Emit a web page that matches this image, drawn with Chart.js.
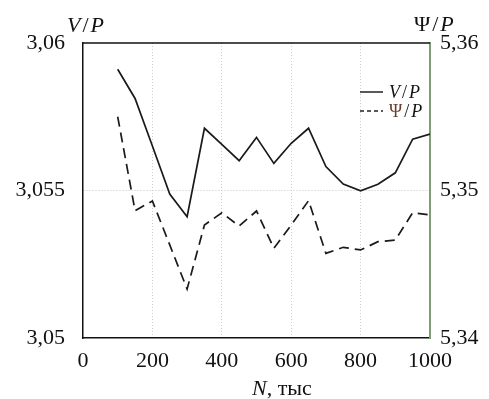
<!DOCTYPE html>
<html>
<head>
<meta charset="utf-8">
<script src="https://cdn.jsdelivr.net/npm/chart.js@4/dist/chart.umd.min.js"></script>
<style>
  html, body { margin: 0; padding: 0; background: #fff; }
  #wrap { width: 489px; height: 399px; }
</style>
</head>
<body>
<div id="wrap"><canvas id="chart" width="489" height="399"></canvas></div>
<script>
// N, thousands
const nValues = [100, 150, 200, 250, 300, 350, 400, 450, 500, 550, 600, 650, 700, 750, 800, 850, 900, 950, 1000];
// V/P (left axis)
const vOverP = [3.05911, 3.05812, 3.05651, 3.05488, 3.05411, 3.05711, 3.05656, 3.05601, 3.05680, 3.05592,
  3.05660, 3.05711, 3.05581, 3.05522, 3.05499, 3.05521, 3.05560, 3.05674, 3.05691];
// Psi/P (right axis)
const psiOverP = [5.35500, 5.34863, 5.34929, 5.34631, 5.34332, 5.34766, 5.34849, 5.34759, 5.34861, 5.34608,
  5.34766, 5.34931, 5.34574, 5.34615, 5.34597, 5.34653, 5.34664, 5.34849, 5.34834];

const xTicks = [0, 200, 400, 600, 800, 1000];
const leftTicks = [3.05, 3.055, 3.06];
const rightTicks = [5.34, 5.35, 5.36];

const SERIF = "'Liberation Serif', 'DejaVu Serif', serif";

function toPoints(xs, ys) {
  return xs.map((x, i) => ({ x, y: ys[i] }));
}

function commaNum(value) {
  return String(value).replace('.', ',');
}

// runs of text with their own style; gap adds space after a run
function drawRuns(ctx, runs, x, y, size) {
  let cx = x;
  runs.forEach((r) => {
    ctx.font = `${r.italic ? 'italic ' : ''}${size}px ${SERIF}`;
    ctx.fillStyle = r.color || '#111';
    cx += r.pre || 0;
    ctx.fillText(r.text, cx, y);
    cx += ctx.measureText(r.text).width + (r.gap || 0);
  });
}

function ratio(top, color) {
  return [
    { text: top.text, italic: top.italic, color },
    { text: '/', italic: false, pre: 2, gap: 2 },
    { text: 'P', italic: true },
  ];
}

const decorPlugin = {
  id: 'decor',
  afterDraw(chart) {
    const { ctx, chartArea } = chart;
    ctx.save();
    // top frame line
    ctx.strokeStyle = '#111';
    ctx.lineWidth = 1.5;
    ctx.beginPath();
    ctx.moveTo(chartArea.left, chartArea.top);
    ctx.lineTo(chartArea.right, chartArea.top);
    ctx.stroke();

    ctx.textBaseline = 'alphabetic';
    ctx.textAlign = 'left';
    // axis labels
    drawRuns(ctx, ratio({ text: 'V', italic: true }), 67, 32, 22);
    drawRuns(ctx, ratio({ text: 'Ψ', italic: false }), 414, 31, 22);
    drawRuns(ctx, [{ text: 'N', italic: true }, { text: ', тыс', italic: false }], 252, 395, 22);

    // legend
    ctx.strokeStyle = '#222';
    ctx.lineWidth = 1.5;
    ctx.beginPath();
    ctx.moveTo(360, 92);
    ctx.lineTo(383, 92);
    ctx.stroke();
    ctx.setLineDash([4, 3]);
    ctx.beginPath();
    ctx.moveTo(360, 111);
    ctx.lineTo(383, 111);
    ctx.stroke();
    ctx.setLineDash([]);
    drawRuns(ctx, ratio({ text: 'V', italic: true }), 389, 98, 18);
    drawRuns(ctx, ratio({ text: 'Ψ', italic: false }, '#6b3d2a'), 389, 117, 18);
    ctx.restore();
  },
};

const ctx = document.getElementById('chart');
new Chart(ctx, {
  type: 'line',
  data: {
    datasets: [
      {
        label: 'V/P',
        data: toPoints(nValues, vOverP),
        yAxisID: 'y',
        borderColor: '#1a1a1a',
        borderWidth: 1.7,
        pointRadius: 0,
        tension: 0,
        fill: false,
      },
      {
        label: 'Ψ/P',
        data: toPoints(nValues, psiOverP),
        yAxisID: 'y2',
        borderColor: '#1a1a1a',
        borderWidth: 1.7,
        borderDash: [10, 6],
        pointRadius: 0,
        tension: 0,
        fill: false,
      },
    ],
  },
  options: {
    responsive: false,
    animation: false,
    layout: { padding: { top: 43, left: 0, right: 0, bottom: 0 } },
    plugins: {
      legend: { display: false },
      tooltip: { enabled: false },
    },
    scales: {
      x: {
        type: 'linear',
        min: 0,
        max: 1000,
        afterBuildTicks: (scale) => { scale.ticks = xTicks.map((v) => ({ value: v })); },
        afterFit: (scale) => { scale.height = 61; },
        ticks: {
          color: '#111',
          padding: 10,
          font: { family: SERIF, size: 22 },
          callback: (v) => String(v),
          maxRotation: 0,
        },
        grid: {
          drawTicks: false,
          lineWidth: 1,
          color: (c) => (c.tick && (c.tick.value === 0 || c.tick.value === 1000) ? 'rgba(0,0,0,0)' : '#cdcdcd'),
        },
        border: { display: true, color: '#111', width: 1.5, dash: [1, 2] },
      },
      y: {
        position: 'left',
        min: 3.05,
        max: 3.06,
        afterBuildTicks: (scale) => { scale.ticks = leftTicks.map((v) => ({ value: v })); },
        afterFit: (scale) => { scale.width = 83; },
        ticks: {
          color: '#111',
          padding: 18,
          font: { family: SERIF, size: 22 },
          callback: (v) => commaNum(v),
        },
        grid: {
          drawTicks: false,
          lineWidth: 1,
          color: (c) => (c.tick && c.tick.value === 3.055 ? '#c4c4c4' : 'rgba(0,0,0,0)'),
        },
        border: { display: true, color: '#111', width: 1.5, dash: [1, 2] },
      },
      y2: {
        position: 'right',
        min: 5.34,
        max: 5.36,
        afterBuildTicks: (scale) => { scale.ticks = rightTicks.map((v) => ({ value: v })); },
        afterFit: (scale) => { scale.width = 59; },
        ticks: {
          color: '#111',
          padding: 10,
          font: { family: SERIF, size: 22 },
          callback: (v) => commaNum(v),
        },
        grid: { display: false, drawTicks: false },
        border: { display: true, color: '#7f9e72', width: 2 },
      },
    },
  },
  plugins: [decorPlugin],
});
</script>
</body>
</html>
